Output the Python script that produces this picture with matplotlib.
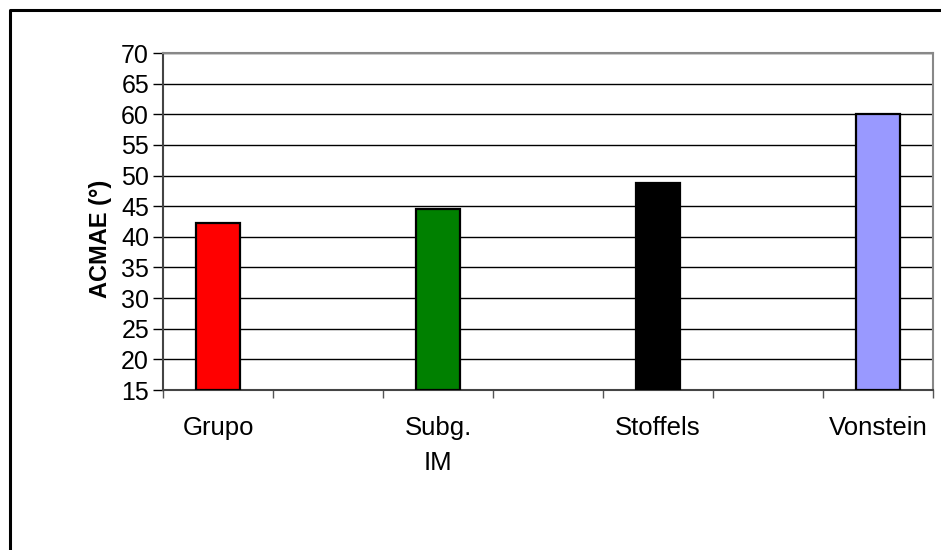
import matplotlib.pyplot as plt
from matplotlib.lines import Line2D

plt.rcParams['font.family'] = ['Liberation Sans', 'DejaVu Sans']

# categorias (com espacos vazios entre as barras)
categorias = ["Grupo", "", "Subg.\nIM", "", "Stoffels", "", "Vonstein"]
valores = [42.2, None, 44.5, None, 48.8, None, 60.0]
cores = ["#ff0000", None, "#008000", None, "#000000", None, "#9999ff"]

yticks = list(range(15, 71, 5))

fig = plt.figure(figsize=(9.41, 5.5), dpi=100)
ax = fig.add_axes([163 / 941, 160 / 550, 770 / 941, 337 / 550])

for i, (v, c) in enumerate(zip(valores, cores)):
    if v is None:
        continue
    ax.bar(i, v - 15, bottom=15, width=0.4, color=c, edgecolor="black",
           linewidth=1.6, zorder=3)

ax.set_xlim(-0.5, len(categorias) - 0.5)
ax.set_ylim(15, 70)
ax.set_yticks(yticks)
ax.set_yticklabels([str(t) for t in yticks], fontsize=18)
ax.yaxis.grid(True, color="black", linewidth=1.0, zorder=0)

# rotulos das categorias no centro, tracinhos nas divisoes
ax.set_xticks(range(len(categorias)))
ax.set_xticklabels(categorias, fontsize=18.5, linespacing=1.55, va="top")
ax.tick_params(axis="x", length=0, pad=19)
ax.set_xticks([i + 0.5 for i in range(-1, len(categorias))], minor=True)
ax.tick_params(axis="x", which="minor", length=6, width=1, color="#555555",
               direction="out")
ax.tick_params(axis="y", length=7, width=1, color="black", direction="out", pad=3)

for s in ["top", "right"]:
    ax.spines[s].set_color("#888888")
    ax.spines[s].set_linewidth(1.5)
ax.spines["left"].set_color("#444444")
ax.spines["left"].set_linewidth(1.5)
ax.spines["bottom"].set_color("#444444")
ax.spines["bottom"].set_linewidth(1.5)

ax.set_ylabel("ACMAE (°)", fontsize=17, fontweight="bold")
ax.yaxis.set_label_coords(-0.066, 0.448)

# moldura externa (esquerda e topo)
fig.add_artist(Line2D([10 / 941, 10 / 941, 1], [0, 1 - 10 / 550, 1 - 10 / 550],
                      transform=fig.transFigure, color="black", linewidth=2.2))

fig.savefig("out.png", dpi=100, facecolor="white")
